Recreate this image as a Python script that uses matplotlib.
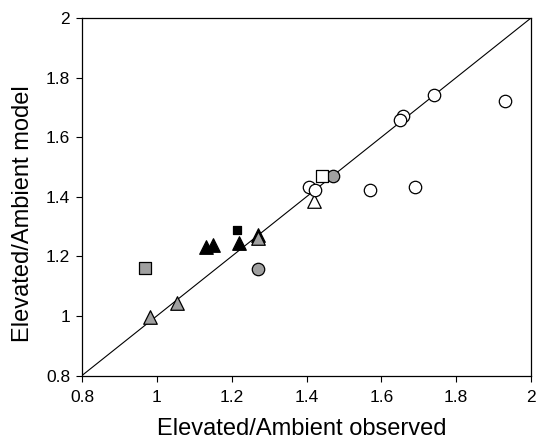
import matplotlib
matplotlib.use("Agg")
import matplotlib.pyplot as plt

plt.rcParams['font.family'] = ['Liberation Sans', 'DejaVu Sans']

# open circles
oc_x = [1.741, 1.931, 1.659, 1.650, 1.408, 1.423, 1.570, 1.691]
oc_y = [1.743, 1.723, 1.670, 1.659, 1.433, 1.422, 1.422, 1.433]
# grey circles
gc_x = [1.470, 1.270]
gc_y = [1.470, 1.159]
# open square / grey square / black square
os_x, os_y = [1.441], [1.470]
gs_x, gs_y = [0.968], [1.160]
bs_x, bs_y = [1.213], [1.290]
# black triangles
bt_x = [1.131, 1.151, 1.220, 1.270]
bt_y = [1.233, 1.239, 1.245, 1.273]
# grey triangles
gt_x = [0.982, 1.055, 1.271]
gt_y = [0.996, 1.043, 1.263]
# open triangle
ot_x, ot_y = [1.421], [1.385]

grey = '#a0a0a0'

fig = plt.figure(figsize=(5.38, 4.40), dpi=100)
ax = fig.add_axes([82 / 538, 64.5 / 440, 449 / 538, 357.5 / 440])

ax.plot([0.8, 2.0], [0.8, 2.0], color='black', linewidth=0.8, zorder=1)

kw = dict(edgecolor='black', linewidths=0.9, zorder=3)
ax.scatter(bt_x, bt_y, marker='^', s=95, facecolor='black', **kw)
ax.scatter(gt_x, gt_y, marker='^', s=95, facecolor=grey, **kw)
ax.scatter(ot_x, ot_y, marker='^', s=95, facecolor='white', **kw)
ax.scatter(oc_x, oc_y, marker='o', s=80, facecolor='white', **kw)
ax.scatter(gc_x, gc_y, marker='o', s=80, facecolor=grey, **kw)
ax.scatter(os_x, os_y, marker='s', s=70, facecolor='white', **kw)
ax.scatter(gs_x, gs_y, marker='s', s=70, facecolor=grey, **kw)
ax.scatter(bs_x, bs_y, marker='s', s=35, facecolor='black', **kw)

ax.set_xlim(0.8, 2.0)
ax.set_ylim(0.8, 2.0)
ticks = [0.8, 1.0, 1.2, 1.4, 1.6, 1.8, 2.0]
labels = ['0.8', '1', '1.2', '1.4', '1.6', '1.8', '2']
ax.set_xticks(ticks, labels)
ax.set_yticks(ticks, labels)
ax.tick_params(direction='out', length=4.5, pad=4, labelsize=12.5, top=False, right=False)
ax.tick_params(axis='x', pad=6)
for s in ax.spines.values():
    s.set_linewidth(0.9)

ax.set_xlabel('Elevated/Ambient observed', fontsize=17)
ax.set_ylabel('Elevated/Ambient model', fontsize=17)
ax.xaxis.set_label_coords(0.49, -0.12)
ax.yaxis.set_label_coords(-0.107, 0.454)

fig.savefig('out.png', dpi=100)
